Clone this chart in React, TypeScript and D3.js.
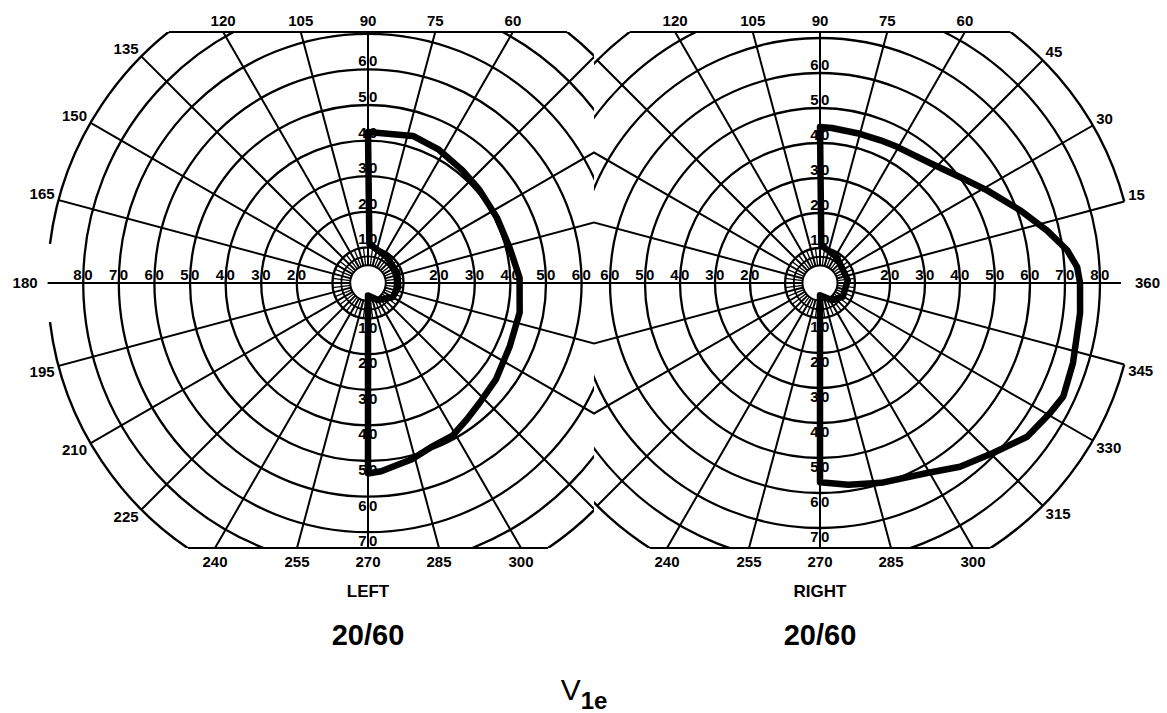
import React from 'react';
import * as d3 from 'd3';

// chart geometry (px)
const W = 1167;
const H = 713;
const CY = 283;
const TOP = 32;
const BOTTOM = 548;
const MID = 594;
const FONT = '"Liberation Sans", Arial, sans-serif';

// grid definition (degrees)
const RINGS = [10, 20, 30, 40, 50, 60, 70, 80];
const OUTER_RING = 90;
const SPOKES = [0, 15, 30, 45, 60, 75, 90, 105, 120, 135, 150, 165, 180, 195, 210, 225, 240, 255, 270, 285, 300, 315, 330, 345];
const FINE_TICKS = [7.5, 22.5, 37.5, 52.5, 67.5, 82.5, 97.5, 112.5, 127.5, 142.5, 157.5, 172.5, 187.5, 202.5, 217.5, 232.5, 247.5, 262.5, 277.5, 292.5, 307.5, 322.5, 337.5, 352.5];

// ring labels along the axes
const LEFT_H_OUTER = [20, 30, 40, 50, 60, 70, 80];
const LEFT_H_INNER = [20, 30, 40, 50, 60];
const RIGHT_H_INNER = [20, 30, 40, 50, 60];
const RIGHT_H_OUTER = [20, 30, 40, 50, 60, 70, 80];
const V_UP = [10, 20, 30, 40, 50, 60];
const V_DOWN = [10, 20, 30, 40, 50, 60, 70];

// isopters: [angle (deg, ccw from right), eccentricity (deg)]
const LEFT_ISOPTER: [number, number][] = [
  [90, 42.4], [73, 43.2], [62, 42.4], [50, 41.3], [40, 40.8], [27, 40.6], [14, 41],
  [2, 42.6], [-11, 43.4], [-24, 43.6], [-37, 45], [-47, 46], [-54, 47.3], [-61, 49],
  [-69, 49.4], [-76, 51], [-86, 53], [-90, 53.5], [-90, 3.5], [-60, 5.5], [-30, 8],
  [-8, 8.6], [19, 8.7], [54, 9], [88, 11],
];
const RIGHT_ISOPTER: [number, number][] = [
  [90, 44.6], [85.6, 44.4], [76, 44.1], [67, 44.3], [60.5, 44.7], [47.5, 46.5],
  [37, 50.2], [29, 54.6], [20, 60.8], [13, 66.6], [7.6, 71.2], [3.6, 73.6], [0, 74.3],
  [-6.6, 74.8], [-17.5, 75.8], [-25, 76.7], [-29.5, 75.5], [-36.6, 73.7], [-44.5, 69.3],
  [-52.7, 66], [-60.6, 62.3], [-73, 59.7], [-82, 58.2], [-90, 56.9], [-90, 3.5],
  [-55, 6], [-31, 7.6], [6, 8], [57, 8.8], [88, 10.8],
];

const CHARTS = [
  { id: 'L', cx: 368, k: 3.56, side: 'left', gap: [173, 187], isopter: LEFT_ISOPTER, name: 'LEFT', acuity: '20/60' },
  { id: 'R', cx: 820, k: 3.5, side: 'right', gap: [-15, 15], isopter: RIGHT_ISOPTER, name: 'RIGHT', acuity: '20/60' },
];

const rad = (d: number) => (d * Math.PI) / 180;

function Chart({ c }: { c: typeof CHARTS[number] }) {
  const r = d3.scaleLinear().domain([0, OUTER_RING]).range([0, OUTER_RING * c.k]);
  const pt = (deg: number, e: number): [number, number] => [
    c.cx + r(e) * Math.cos(rad(deg)),
    CY - r(e) * Math.sin(rad(deg)),
  ];
  const isLeft = c.side === 'left';
  const clipX0 = isLeft ? 0 : MID;
  const clipX1 = isLeft ? MID : W;
  const R90 = r(OUTER_RING);

  // outer ring with gap at the horizontal axis
  const outer = d3.path();
  const [g0, g1] = c.gap;
  const s = pt(g1, OUTER_RING);
  outer.moveTo(s[0], s[1]);
  outer.arc(c.cx, CY, R90, rad(-g1), rad(-(g0 + 360)), true);

  // top / bottom edges
  const edge = (y: number) => {
    const dx = Math.sqrt(R90 * R90 - (y - CY) * (y - CY));
    return [Math.max(c.cx - dx, clipX0), Math.min(c.cx + dx, clipX1)];
  };
  const topE = edge(TOP);
  const botE = edge(BOTTOM);

  // spoke ends for labels
  const labels = SPOKES.map((a) => {
    const co = Math.cos(rad(a));
    const si = Math.sin(rad(a));
    let t = R90;
    let where = 'ring';
    if (si > 1e-6 && (CY - TOP) / si < t) { t = (CY - TOP) / si; where = 'top'; }
    if (si < -1e-6 && (BOTTOM - CY) / -si < t) { t = (BOTTOM - CY) / -si; where = 'bottom'; }
    const ex = c.cx + t * co;
    const ey = CY - t * si;
    const inOwn = isLeft ? ex < MID - 4 : ex > MID + 4;
    const text = !isLeft && a === 0 ? '360' : String(a);
    return { a, co, si, ex, ey, where, inOwn, text };
  }).filter((d) => d.inOwn);

  const line = d3.line<[number, number]>()
    .x((d) => pt(d[0], d[1])[0])
    .y((d) => pt(d[0], d[1])[1])
    .curve(d3.curveLinear);

  const hOuter = isLeft ? LEFT_H_OUTER : RIGHT_H_OUTER;
  const hInner = isLeft ? LEFT_H_INNER : RIGHT_H_INNER;
  const outerDir = isLeft ? -1 : 1;

  const lbl = { fontFamily: FONT, fontWeight: 700, fontSize: 15, fill: '#000' } as const;
  const ringLbl = { ...lbl, letterSpacing: 2.5 } as const;

  return (
    <g>
      <defs>
        <clipPath id={`rect${c.id}`}>
          <rect x={clipX0} y={TOP} width={clipX1 - clipX0} height={BOTTOM - TOP} />
        </clipPath>
        <clipPath id={`disc${c.id}`}>
          <circle cx={c.cx} cy={CY} r={R90} />
        </clipPath>
      </defs>
      <g clipPath={`url(#rect${c.id})`}>
        <g clipPath={`url(#disc${c.id})`}>
          {RINGS.map((d) => (
            <circle key={d} cx={c.cx} cy={CY} r={r(d)} fill="none" stroke="#000" strokeWidth={2.3} />
          ))}
          {SPOKES.filter((a) => a % 180 !== 0).map((a) => {
            const p0 = pt(a, 5);
            const p1 = pt(a, OUTER_RING + 5);
            return <line key={a} x1={p0[0]} y1={p0[1]} x2={p1[0]} y2={p1[1]} stroke="#000" strokeWidth={2} />;
          })}
          {FINE_TICKS.map((a) => {
            const p0 = pt(a, 5);
            const p1 = pt(a, 10);
            return <line key={a} x1={p0[0]} y1={p0[1]} x2={p1[0]} y2={p1[1]} stroke="#000" strokeWidth={1.3} />;
          })}
          <circle cx={c.cx} cy={CY} r={r(7.5)} fill="none" stroke="#000" strokeWidth={1.8} />
        </g>
        <path d={outer.toString()} fill="none" stroke="#000" strokeWidth={2.4} />
      </g>
      <line x1={topE[0]} y1={TOP} x2={topE[1]} y2={TOP} stroke="#000" strokeWidth={2.2} />
      <line x1={botE[0]} y1={BOTTOM} x2={botE[1]} y2={BOTTOM} stroke="#000" strokeWidth={2.2} />
      <circle cx={c.cx} cy={CY} r={r(5)} fill="#fff" stroke="#000" strokeWidth={2} />

      {labels.map((d) => {
        if (d.where === 'top') {
          return <text key={d.a} x={d.ex} y={TOP - 6} textAnchor="middle" {...lbl}>{d.text}</text>;
        }
        if (d.where === 'bottom') {
          return <text key={d.a} x={d.ex} y={BOTTOM + 19} textAnchor="middle" {...lbl}>{d.text}</text>;
        }
        const horiz = Math.abs(d.si) < 1e-6;
        const off = horiz ? (isLeft ? 10 : 0) : 4;
        const x = d.ex + d.co * off;
        const y = d.ey - d.si * off;
        const anchor = d.co > 0.2 ? 'start' : d.co < -0.2 ? 'end' : 'middle';
        const dy = horiz ? 5 : d.si > 0 ? 0 : 10;
        return <text key={d.a} x={x} y={y + dy} textAnchor={anchor} {...lbl}>{d.text}</text>;
      })}

      {hOuter.map((v) => (
        <text key={`ho${v}`} x={c.cx + outerDir * r(v) + 1} y={CY - 3} textAnchor="middle" {...ringLbl}>{v}</text>
      ))}
      {hInner.map((v) => (
        <text key={`hi${v}`} x={c.cx - outerDir * r(v) + 1} y={CY - 3} textAnchor="middle" {...ringLbl}>{v}</text>
      ))}
      {V_UP.map((v) => (
        <text key={`vu${v}`} x={c.cx + 1} y={CY - r(v) - 3} textAnchor="middle" {...ringLbl}>{v}</text>
      ))}
      {V_DOWN.map((v) => (
        <text key={`vd${v}`} x={c.cx + 1} y={CY + r(v) + 14} textAnchor="middle" {...ringLbl}>{v}</text>
      ))}

      <path d={line(c.isopter) + 'Z'} fill="none" stroke="#000" strokeWidth={6.5} strokeLinejoin="round" />

      <text x={c.cx} y={597} textAnchor="middle" fontFamily={FONT} fontWeight={700} fontSize={17}>{c.name}</text>
      <text x={c.cx} y={645} textAnchor="middle" fontFamily={FONT} fontWeight={700} fontSize={29}>{c.acuity}</text>
    </g>
  );
}

export default function App() {
  const left = CHARTS[0];
  const right = CHARTS[1];
  return (
    <svg width={W} height={H} style={{ position: 'absolute', left: 0, top: 0, background: '#fff' }}>
      <rect width={W} height={H} fill="#fff" />
      <line x1={left.cx - OUTER_RING * left.k} y1={CY} x2={right.cx + 86 * right.k} y2={CY} stroke="#000" strokeWidth={2.2} />
      {CHARTS.map((c) => <Chart key={c.id} c={c} />)}
      <text x={584} y={700} textAnchor="middle" fontFamily={FONT} fontSize={30}>
        V<tspan dy={9} fontSize={24} fontWeight={700}>1e</tspan>
      </text>
    </svg>
  );
}
